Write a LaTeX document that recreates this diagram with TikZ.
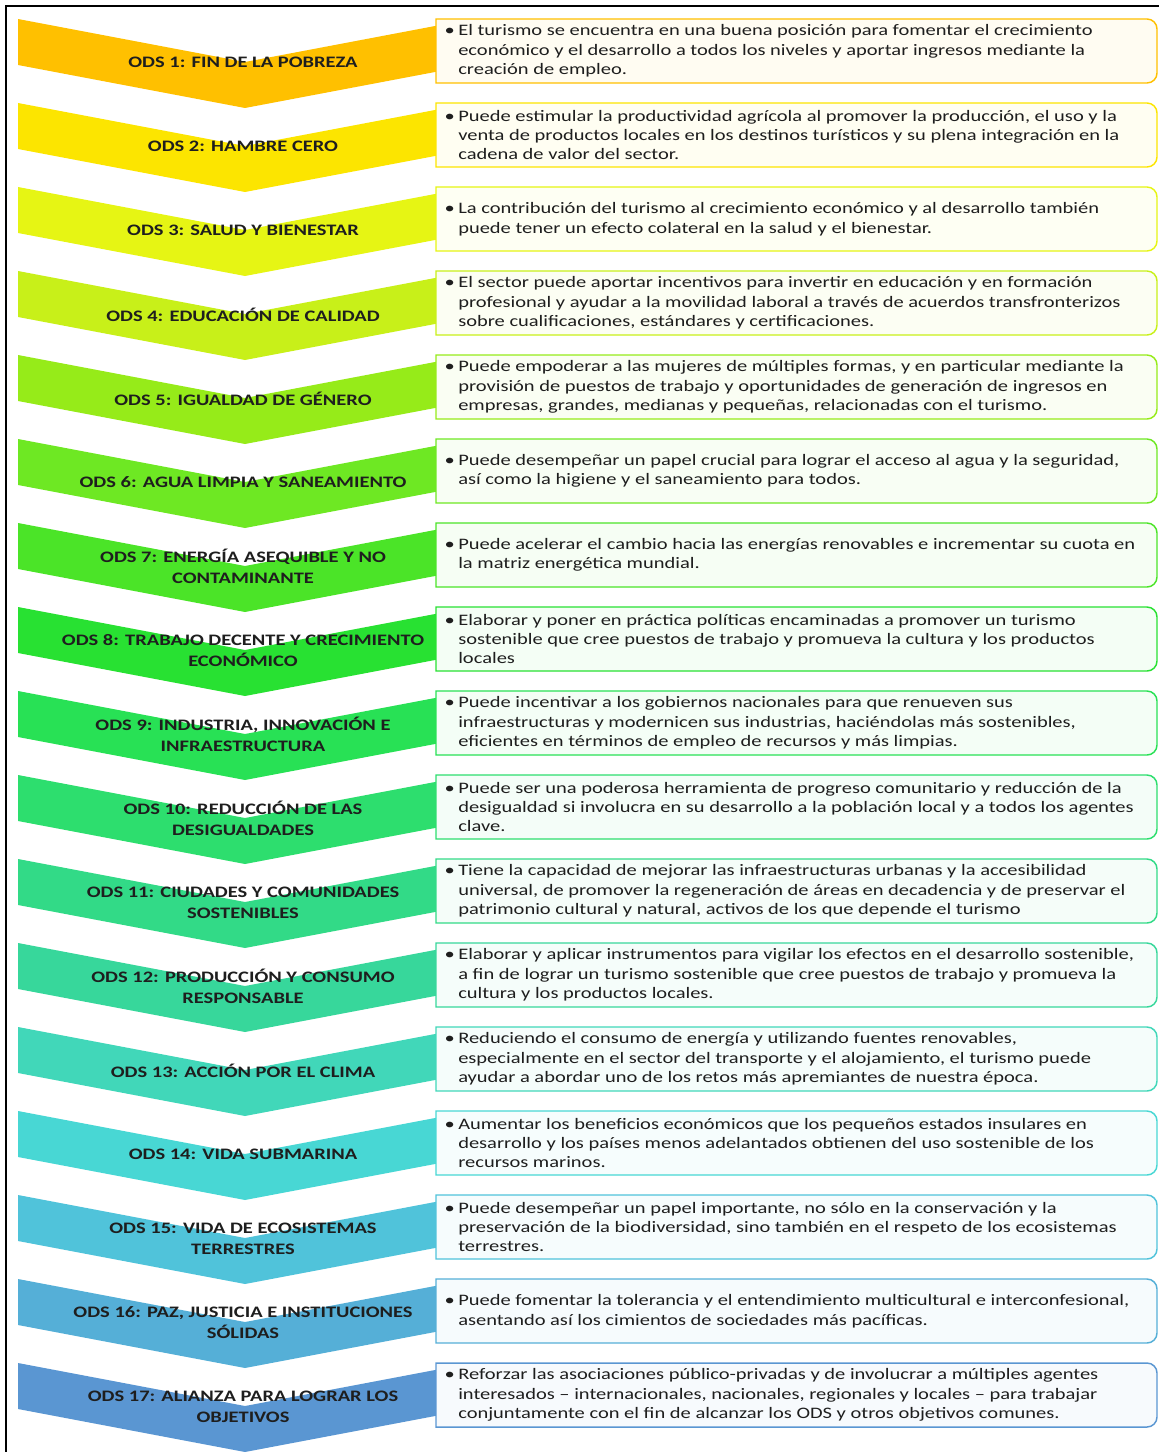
\documentclass[tikz,border=0pt]{standalone}
\usepackage{fontspec}
\setmainfont{Carlito}[FakeStretch=1.28]
\definecolor{k1}{RGB}{255,192,0}
\definecolor{k2}{RGB}{252,229,0}
\definecolor{k3}{RGB}{230,245,20}
\definecolor{k4}{RGB}{200,240,25}
\definecolor{k5}{RGB}{150,235,25}
\definecolor{k6}{RGB}{110,232,35}
\definecolor{k7}{RGB}{75,228,40}
\definecolor{k8}{RGB}{40,225,50}
\definecolor{k9}{RGB}{40,225,85}
\definecolor{k10}{RGB}{45,222,110}
\definecolor{k11}{RGB}{50,218,135}
\definecolor{k12}{RGB}{55,215,155}
\definecolor{k13}{RGB}{65,215,185}
\definecolor{k14}{RGB}{72,215,212}
\definecolor{k15}{RGB}{80,195,218}
\definecolor{k16}{RGB}{85,175,215}
\definecolor{k17}{RGB}{90,150,210}
\definecolor{ink}{RGB}{30,30,30}
\tikzset{
  chevtext/.style={align=center, inner sep=0pt, text=ink,
    font=\bfseries\fontsize{12}{15.75}\selectfont},
  bodytext/.style={anchor=west, align=left, inner sep=0pt, text=ink,
    font=\fontsize{12}{14.6}\selectfont},
  boxline/.style={draw=#1, line width=1.1pt, fill=#1!5},
  frame/.style={line width=1.5pt, draw=black}
}
\newcommand\odsrow[4]{%
  \pgfmathsetmacro\tp{19+84*(#1-1)}%
  \pgfmathsetmacro\bt{\tp+64}%
  \fill[#2] (18,\tp) -- (245,\tp+43) -- (472,\tp) -- (472,\tp+46) -- (245,\tp+89) -- (18,\tp+46) -- cycle;
  \node[chevtext] (c#1) at (243,\tp+43.5) {#3};
  \draw[boxline=#2] (436,\tp) -- (1147,\tp) arc(-90:0:10) -- (1157,\bt-10) arc(0:90:10) -- (436,\bt) -- cycle;
  \node[bodytext] (b#1) at (458,\tp+32) {\llap{•\hspace{2.5pt}}#4};
}
\begin{document}
\begin{tikzpicture}[x=0.75pt,y=-0.75pt]
\useasboundingbox (0,0) rectangle (1159,1452);
\odsrow{1}{k1}{ODS 1: FIN DE LA POBREZA}{El turismo se encuentra en una buena posición para fomentar el crecimiento\\económico y el desarrollo a todos los niveles y aportar ingresos mediante la\\creación de empleo.}
\odsrow{2}{k2}{ODS 2: HAMBRE CERO}{Puede estimular la productividad agrícola al promover la producción, el uso y la\\venta de productos locales en los destinos turísticos y su plena integración en la\\cadena de valor del sector.}
\odsrow{3}{k3}{ODS 3: SALUD Y BIENESTAR}{La contribución del turismo al crecimiento económico y al desarrollo también\\puede tener un efecto colateral en la salud y el bienestar.}
\odsrow{4}{k4}{ODS 4: EDUCACIÓN DE CALIDAD}{El sector puede aportar incentivos para invertir en educación y en formación\\profesional y ayudar a la movilidad laboral a través de acuerdos transfronterizos\\sobre cualificaciones, estándares y certificaciones.}
\odsrow{5}{k5}{ODS 5: IGUALDAD DE GÉNERO}{Puede empoderar a las mujeres de múltiples formas, y en particular mediante la\\provisión de puestos de trabajo y oportunidades de generación de ingresos en\\empresas, grandes, medianas y pequeñas, relacionadas con el turismo.}
\odsrow{6}{k6}{ODS 6: AGUA LIMPIA Y SANEAMIENTO}{Puede desempeñar un papel crucial para lograr el acceso al agua y la seguridad,\\así como la higiene y el saneamiento para todos.}
\odsrow{7}{k7}{ODS 7: ENERGÍA ASEQUIBLE Y NO\\CONTAMINANTE}{Puede acelerar el cambio hacia las energías renovables e incrementar su cuota en\\la matriz energética mundial.}
\odsrow{8}{k8}{ODS 8: TRABAJO DECENTE Y CRECIMIENTO\\ECONÓMICO}{Elaborar y poner en práctica políticas encaminadas a promover un turismo\\sostenible que cree puestos de trabajo y promueva la cultura y los productos\\locales}
\odsrow{9}{k9}{ODS 9: INDUSTRIA, INNOVACIÓN E\\INFRAESTRUCTURA}{Puede incentivar a los gobiernos nacionales para que renueven sus\\infraestructuras y modernicen sus industrias, haciéndolas más sostenibles,\\eficientes en términos de empleo de recursos y más limpias.}
\odsrow{10}{k10}{ODS 10: REDUCCIÓN DE LAS\\DESIGUALDADES}{Puede ser una poderosa herramienta de progreso comunitario y reducción de la\\desigualdad si involucra en su desarrollo a la población local y a todos los agentes\\clave.}
\odsrow{11}{k11}{ODS 11: CIUDADES Y COMUNIDADES\\SOSTENIBLES}{Tiene la capacidad de mejorar las infraestructuras urbanas y la accesibilidad\\universal, de promover la regeneración de áreas en decadencia y de preservar el\\patrimonio cultural y natural, activos de los que depende el turismo}
\odsrow{12}{k12}{ODS 12: PRODUCCIÓN Y CONSUMO\\RESPONSABLE}{Elaborar y aplicar instrumentos para vigilar los efectos en el desarrollo sostenible,\\a fin de lograr un turismo sostenible que cree puestos de trabajo y promueva la\\cultura y los productos locales.}
\odsrow{13}{k13}{ODS 13: ACCIÓN POR EL CLIMA}{Reduciendo el consumo de energía y utilizando fuentes renovables,\\especialmente en el sector del transporte y el alojamiento, el turismo puede\\ayudar a abordar uno de los retos más apremiantes de nuestra época.}
\odsrow{14}{k14}{ODS 14: VIDA SUBMARINA}{Aumentar los beneficios económicos que los pequeños estados insulares en\\desarrollo y los países menos adelantados obtienen del uso sostenible de los\\recursos marinos.}
\odsrow{15}{k15}{ODS 15: VIDA DE ECOSISTEMAS\\TERRESTRES}{Puede desempeñar un papel importante, no sólo en la conservación y la\\preservación de la biodiversidad, sino también en el respeto de los ecosistemas\\terrestres.}
\odsrow{16}{k16}{ODS 16: PAZ, JUSTICIA E INSTITUCIONES\\SÓLIDAS}{Puede fomentar la tolerancia y el entendimiento multicultural e interconfesional,\\asentando así los cimientos de sociedades más pacíficas.}
\odsrow{17}{k17}{ODS 17: ALIANZA PARA LOGRAR LOS\\OBJETIVOS}{Reforzar las asociaciones público-privadas y de involucrar a múltiples agentes\\interesados – internacionales, nacionales, regionales y locales – para trabajar\\conjuntamente con el fin de alcanzar los ODS y otros objetivos comunes.}
\draw[frame] (6,1452) -- (6,6) -- (1159,6);
\end{tikzpicture}
\end{document}
